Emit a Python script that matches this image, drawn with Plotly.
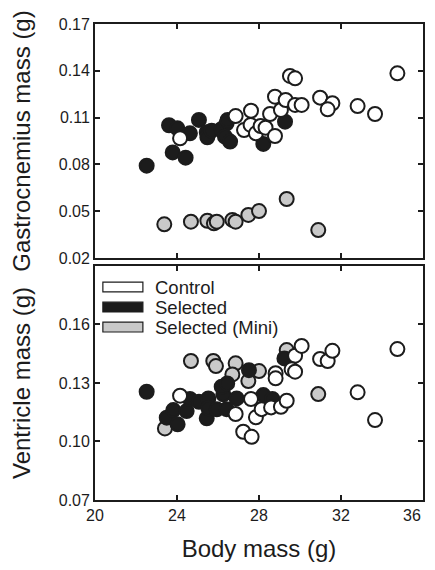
import plotly.graph_objects as go
from plotly.subplots import make_subplots

# body mass (g) / organ mass (g)
# --- gastrocnemius panel ---
gas_ctrl_x = [24.15, 26.86, 27.61, 27.27, 27.59, 27.85, 28.08, 28.32, 28.78, 28.54, 28.78,
              29.07, 29.30, 29.51, 29.76, 29.76, 30.08, 30.98, 31.58, 31.35, 32.81, 33.66, 34.75]
gas_ctrl_y = [0.0967, 0.1110, 0.1144, 0.1020, 0.1053, 0.0999, 0.1046, 0.1035, 0.0982, 0.1123, 0.1234,
              0.1149, 0.1213, 0.1367, 0.1352, 0.1181, 0.1181, 0.1228, 0.1192, 0.1153, 0.1174, 0.1123, 0.1384]
gas_sel_x = [22.52, 23.61, 24.02, 24.63, 23.79, 24.42, 25.07, 25.45, 25.48, 25.69, 26.18,
             26.42, 26.47, 26.34, 26.59, 28.21, 29.27]
gas_sel_y = [0.0792, 0.1051, 0.1031, 0.0999, 0.0877, 0.0843, 0.1085, 0.1006, 0.0974, 0.1016, 0.1027,
             0.1064, 0.1085, 0.0978, 0.0946, 0.0931, 0.1074]
gas_mini_x = [23.38, 24.68, 25.48, 25.80, 25.94, 26.70, 26.86, 27.48, 28.00, 29.35, 30.89]
gas_mini_y = [0.0416, 0.0433, 0.0439, 0.0422, 0.0433, 0.0444, 0.0433, 0.0476, 0.0501, 0.0578, 0.0379]

# --- ventricle panel ---
ven_ctrl_x = [24.15, 26.86, 27.23, 27.64, 27.61, 27.85, 28.13, 28.59, 28.81, 28.81, 29.07,
              29.35, 29.76, 29.59, 29.76, 30.08, 30.98, 31.35, 31.58, 32.81, 33.66, 34.75]
ven_ctrl_y = [0.1235, 0.1141, 0.1050, 0.1024, 0.1218, 0.1124, 0.1166, 0.1175, 0.1350, 0.1324, 0.1178,
              0.1209, 0.1440, 0.1370, 0.1358, 0.1490, 0.1423, 0.1413, 0.1465, 0.1252, 0.1110, 0.1474]
ven_sel_x = [22.52, 23.50, 23.82, 24.03, 24.47, 24.63, 25.07, 25.53, 25.45, 25.53, 25.94,
             26.26, 26.18, 26.45, 26.42, 26.91, 27.51, 28.21, 28.65, 29.24]
ven_sel_y = [0.1255, 0.1122, 0.1161, 0.1088, 0.1156, 0.1218, 0.1204, 0.1221, 0.1119, 0.1170, 0.1165,
             0.1242, 0.1281, 0.1298, 0.1166, 0.1221, 0.1366, 0.1238, 0.1218, 0.1426]
ven_mini_x = [23.41, 24.68, 25.77, 25.90, 26.86, 26.70, 27.48, 28.00, 29.35, 30.89]
ven_mini_y = [0.1067, 0.1413, 0.1413, 0.1387, 0.1401, 0.1344, 0.1310, 0.1361, 0.1469, 0.1243]

groups = ['Control', 'Selected', 'Selected (Mini)']
fills = ['white', '#1c1c1c', '#c9c9c9']
edge = '#1c1c1c'

x_ticks = [20, 24, 28, 32, 36]
x_labels = ['20', '24', '28', '32', '']   # the 36 is drawn right-aligned below
gas_ticks = [0.02, 0.05, 0.08, 0.11, 0.14, 0.17]
ven_ticks = [0.07, 0.10, 0.13, 0.16]

FONT = 'Liberation Sans, Arial, sans-serif'

fig = make_subplots(rows=2, cols=1)

panels = [
    (1, [(gas_mini_x, gas_mini_y, 2), (gas_sel_x, gas_sel_y, 1), (gas_ctrl_x, gas_ctrl_y, 0)]),
    (2, [(ven_mini_x, ven_mini_y, 2), (ven_sel_x, ven_sel_y, 1), (ven_ctrl_x, ven_ctrl_y, 0)]),
]
for row, sets in panels:
    for xs, ys, g in sets:
        fig.add_trace(go.Scatter(x=xs, y=ys, mode='markers', name=groups[g], showlegend=False,
                                 marker=dict(size=14, color=fills[g],
                                             line=dict(color=edge, width=2))),
                      row=row, col=1)

axis_common = dict(showline=True, linecolor='#1c1c1c', linewidth=1.8, mirror='ticks',
                   ticks='inside', ticklen=5, tickwidth=1.5, tickcolor='#1c1c1c',
                   showgrid=False, zeroline=False, automargin=False,
                   tickfont=dict(family=FONT, size=16, color='#1c1c1c'))
title_font = dict(family=FONT, size=24, color='#1c1c1c')

fig.update_xaxes(range=[20, 36], tickvals=x_ticks, ticktext=x_labels, **axis_common)
fig.update_xaxes(showticklabels=False, row=1, col=1)
fig.update_xaxes(title=dict(text='Body mass (g)', font=title_font, standoff=19), row=2, col=1)
fig.update_yaxes(**axis_common)
fig.update_yaxes(range=[0.02, 0.17], tickvals=gas_ticks, tickformat='.2f', domain=[0.5084, 1],
                 title=dict(text='Gastrocnemius mass (g)', font=title_font, standoff=22),
                 row=1, col=1)
fig.update_yaxes(range=[0.07, 0.19], tickvals=ven_ticks, tickformat='.2f', domain=[0, 0.4916],
                 title=dict(text='Ventricle mass (g)', font=title_font, standoff=22),
                 row=2, col=1)

# last x tick label, flush with the right end of the axis as in the original
fig.add_annotation(xref='x2', yref='y2 domain', x=x_ticks[-1], y=0, text=str(x_ticks[-1]),
                   showarrow=False, xanchor='right', yanchor='top', yshift=-5,
                   font=dict(family=FONT, size=16, color='#1c1c1c'))

# hand-drawn legend inside the lower panel
for i, (name, fill) in enumerate(zip(groups, fills)):
    yc = 0.910 - i * 0.0855
    fig.add_shape(type='rect', xref='x2 domain', yref='y2 domain',
                  x0=0.024, x1=0.146, y0=yc - 0.021, y1=yc + 0.021,
                  fillcolor=fill, line=dict(color=edge, width=1.2))
    fig.add_annotation(xref='x2 domain', yref='y2 domain', x=0.178, y=yc,
                       text=name, showarrow=False, xanchor='left', yanchor='middle',
                       font=dict(family=FONT, size=18.5, color='#1c1c1c'))

# the page body has an 8px margin all round; keep the figure inside the window
fig.update_layout(width=419, height=554, plot_bgcolor='white', paper_bgcolor='white',
                  margin=dict(l=87, r=4, t=16, b=62), showlegend=False)

fig.write_html("out.html")
